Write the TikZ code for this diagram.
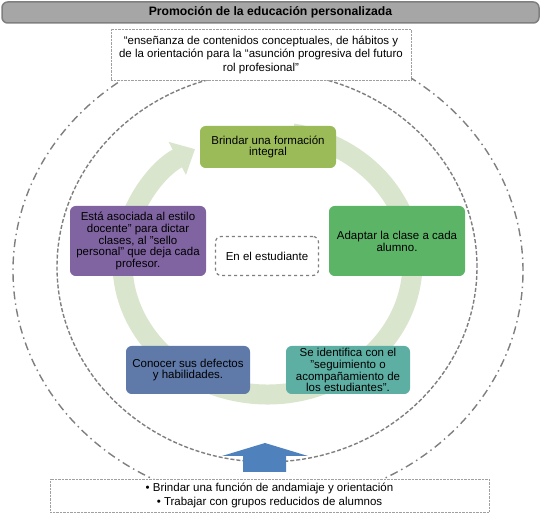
\documentclass[tikz,border=0pt]{standalone}
\usepackage{fontspec}
\setmainfont{Liberation Sans}
\usetikzlibrary{arrows.meta,positioning}
\definecolor{TitleGray}{HTML}{A6A6A6}
\definecolor{EdgeGray}{HTML}{7F7F7F}
\definecolor{DotGray}{HTML}{A0A0A0}
\definecolor{RingGreen}{HTML}{DAE5CD}
\definecolor{Olive}{HTML}{9BBB59}
\definecolor{Leaf}{HTML}{5CB467}
\definecolor{Violet}{HTML}{8064A2}
\definecolor{Slate}{HTML}{5F79A9}
\definecolor{Teal}{HTML}{5EAFA3}
\definecolor{ArrowBlue}{HTML}{4F81BD}

\begin{document}
\begin{tikzpicture}[
    x=1pt, y=1pt,
    font=\fontsize{11.5}{11.8}\selectfont,
    titlebar/.style={draw=EdgeGray, line width=1.5pt, rounded corners=2mm, fill=TitleGray, minimum width=537pt, minimum height=21pt, font=\fontsize{12.2}{13}\selectfont\bfseries},
    notebox/.style={draw=DotGray, densely dotted, fill=white, align=center, inner sep=0pt, font=\fontsize{11.5}{13.5}\selectfont},
    stage/.style={rounded corners=2mm, align=center, inner sep=0pt, minimum width=136pt, minimum height=42pt},
    small/.style={stage, minimum width=124pt, minimum height=48pt},
    hubbox/.style={draw=EdgeGray, dashed, line width=1.2pt, rounded corners=2mm, fill=white, minimum width=103pt, minimum height=39pt},
    ring/.style={draw=RingGreen, line width=20pt, -{Triangle[width=36pt,length=20pt]}},
    dashring/.style={draw=EdgeGray, line width=1.4pt, dash pattern=on 4pt off 2pt},
    dotring/.style={draw=EdgeGray, line width=1.4pt, dash pattern=on 8pt off 4pt on 1.5pt off 4pt},
    upblock/.style={fill=ArrowBlue}
]
\useasboundingbox (0,0) rectangle (541,514);
% outer rings
\coordinate (hub) at (267.5,251);
\draw[dotring] (268,243) ellipse [x radius=255, y radius=233];
\draw[dashring] (267,247) ellipse [x radius=210, y radius=195];
\draw[ring] (hub) ++(80:145 and 131.5) arc[start angle=80, end angle=-240, x radius=145, y radius=131.5];

\node[titlebar] (title) at (270.5,501.5) {Promoción de la educación personalizada};
\node[notebox, minimum width=300pt, minimum height=51pt] (quote) at (261,459.5) {“enseñanza de contenidos conceptuales, de hábitos y\\de la orientación para la “asunción progresiva del futuro\\rol profesional”};

\node[stage, fill=Olive] (s1) at (268,367) {Brindar una formación\\integral};
\node[stage, fill=Leaf, minimum height=70pt] (s2) at (397,273) {Adaptar la clase a cada\\alumno.};
\node[small, fill=Teal] (s3) at (348,144) {Se identifica con el\\"seguimiento o\\acompañamiento de\\los estudiantes".};
\node[small, fill=Slate] (s4) at (188,144) {Conocer sus defectos\\y habilidades.};
\node[stage, fill=Violet, minimum height=70pt] (s5) at (138,273) {Está asociada al estilo\\docente" para dictar\\clases, al "sello\\personal" que deja cada\\profesor.};
\node[hubbox] (core) at (267,258) {En el estudiante};

\node[notebox, minimum width=439pt, minimum height=33pt] (base) at (269.5,18.5) {• Brindar una función de andamiaje y orientación\\• Trabajar con grupos reducidos de alumnos};
% push arrow
\fill[upblock] (243,42) -- (243,58) -- (222,58) -- (265,71) -- (308,58) -- (286,58) -- (286,42) -- cycle;
\end{tikzpicture}
\end{document}
